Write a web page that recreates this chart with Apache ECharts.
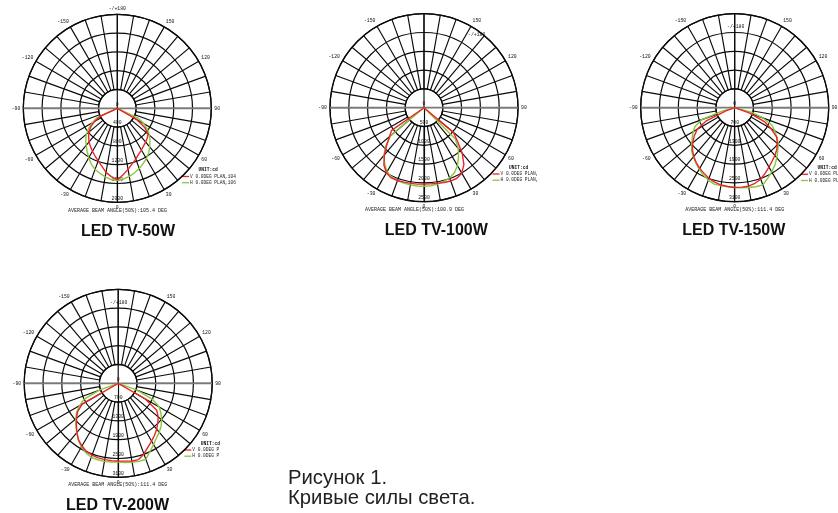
<!DOCTYPE html>
<html><head><meta charset="utf-8">
<script src="https://cdn.jsdelivr.net/npm/echarts/dist/echarts.min.js"></script>
<style>html,body{margin:0;padding:0;background:#fff}#c{width:838px;height:513px}</style>
</head><body><div id="c"></div>
<script>
// Angles (deg, 0 = straight down, positive to the right)
const ANGLES = [-90,-85,-80,-75,-70,-65,-60,-55,-50,-45,-40,-35,-30,-25,-20,-15,-10,-5,0,5,10,15,20,25,30,35,40,45,50,55,60,65,70,75,80,85,90];

// Luminous intensity, cd
const V_50W  = [0,0,0,0,0,400,560,690,790,863,935,995,1057,1120,1190,1275,1385,1460,1520,1420,1320,1225,1150,1078,1025,975,938,900,855,710,470,0,0,0,0,0,0];
const H_50W  = [0,0,0,0,0,485,610,740,860,950,1030,1120,1215,1310,1385,1430,1480,1520,1530,1510,1470,1420,1365,1300,1235,1165,1070,985,890,790,650,480,0,0,0,0,0];
const V_100W = [0,0,0,0,0,0,0,1050,1200,1400,1640,1860,2000,2060,2060,2050,2045,2040,2030,2035,2045,2060,2075,2070,2010,1850,1580,1260,1020,0,0,0,0,0,0,0,0];
const H_100W = [0,0,0,0,0,0,0,0,1150,1440,1660,1820,1970,2030,2060,2075,2085,2090,2090,2085,2065,2030,1990,1910,1780,1600,1420,1180,0,0,0,0,0,0,0,0,0];
const V_150W = [0,0,0,0,310,1050,1430,1630,1810,1970,2100,2210,2310,2390,2480,2540,2590,2610,2630,2630,2630,2580,2510,2380,2260,2150,2060,1960,1840,1690,1390,1080,530,0,0,0,0];
const H_150W = [0,0,0,430,1150,1440,1580,1710,1850,2010,2120,2230,2340,2450,2540,2610,2610,2620,2630,2650,2670,2700,2710,2570,2440,2310,2160,2010,1880,1700,1520,1350,990,560,0,0,0];
const V_200W = [0,0,0,0,0,0,1370,1640,1790,1950,2120,2280,2390,2480,2520,2545,2555,2560,2560,2575,2600,2605,2480,2320,2200,2090,1975,1845,1725,1550,1020,0,0,0,0,0,0,0];
const H_200W = [0,0,0,0,640,1240,1470,1675,1830,1975,2125,2295,2425,2525,2595,2610,2615,2605,2595,2620,2645,2665,2665,2480,2330,2200,2105,2000,1870,1720,1565,1240,640,0,0,0,0];

// Tick labels
const RINGS_50W  = ['0','400','800','1200','1600','2000'];
const RINGS_100W = ['0','500','1000','1500','2000','2500'];
const RINGS_150W = ['0','700','1300','1900','2500','3100'];
const RINGS_200W = ['0','700','1300','1900','2500','3100'];
const ANGLE_LABELS = ['0','30','60','90','120','150','-/+180','-150','-120','-90','-60','-30'];

const RING_MAX = [2000, 2500, 3100, 3100];
const TITLES = ['LED TV-50W','LED TV-100W','LED TV-150W','LED TV-200W'];
const BEAMS = ['AVERAGE BEAM ANGLE(50%):105.4 DEG','AVERAGE BEAM ANGLE(50%):100.9 DEG','AVERAGE BEAM ANGLE(50%):111.4 DEG','AVERAGE BEAM ANGLE(50%):111.4 DEG'];
const LEG_V = ['V 0.0DEG PLAN,104.4°','V 0.0DEG PLAN,104.5°','V 0.0DEG PLAN','V 0.0DEG PLAN'];
const LEG_H = ['H 0.0DEG PLAN,106.4°','H 0.0DEG PLAN,97.2°','H 0.0DEG PLAN','H 0.0DEG PLAN'];

const MONO = '"Liberation Mono","DejaVu Sans Mono",monospace';
const SANS = '"Liberation Sans",Arial,sans-serif';
const LINE = '#0a0a0a';
const RED = '#e8262a';
const GREEN = '#8cc63c';

const panels = [
  {v:V_50W, h:H_50W, rings:RINGS_50W, cx:117.3, cy:108.3, r:94, tx:128, ty:231.2, bx:117.5, by:210.7, lx:182, ly:176.5, lclip:49, l180:null},
  {v:V_100W, h:H_100W, rings:RINGS_100W, cx:424, cy:107.7, r:94, tx:436.3, ty:230.3, bx:414.5, by:210, lx:492.5, ly:174, lclip:40.5, l180:[52.7,-72.7]},
  {v:V_150W, h:H_150W, rings:RINGS_150W, cx:734.7, cy:107.7, r:94, tx:733.8, ty:230.3, bx:734.7, by:210, lx:801, ly:174.3, lclip:40, l180:[1,-80.5]},
  {v:V_200W, h:H_200W, rings:RINGS_200W, cx:118.2, cy:383.3, r:94, tx:117.5, ty:505.3, bx:117.8, by:484.3, lx:184.3, ly:450, lclip:29.5, l180:[0.5,-80.6]}
];

const option = {animation:false, backgroundColor:'#fff', polar:[], angleAxis:[], radiusAxis:[], series:[], graphic:[]};
const toAxisAngle = a => (a < 0 ? a + 360 : a);

panels.forEach((p, i) => {
  const max = RING_MAX[i];
  const n = p.rings.length - 1;
  const step = max / n;
  const gi = 2 * i, di = 2 * i + 1;
  option.polar.push({center:[p.cx, p.cy], radius:[p.r / n, p.r]});
  option.polar.push({center:[p.cx, p.cy], radius:[0, p.r]});
  option.angleAxis.push({
    polarIndex:gi, type:'value', min:0, max:360, interval:10, startAngle:270, clockwise:false,
    axisLine:{show:true, lineStyle:{color:LINE, width:1.3}}, axisTick:{show:false}, axisLabel:{show:false},
    splitLine:{show:true, lineStyle:{color:LINE, width:1.15}}, splitArea:{show:false}
  });
  option.angleAxis.push({
    polarIndex:di, type:'value', min:0, max:360, interval:30, startAngle:270, clockwise:false,
    axisLine:{show:false}, axisTick:{show:false}, splitLine:{show:false}, splitArea:{show:false},
    axisLabel:{show:true, margin:3, fontSize:4.8, fontFamily:MONO, color:'#111',
      formatter:(v) => { if (v >= 360) return ''; if (v === 180 && p.l180) return ''; return ANGLE_LABELS[Math.round(v / 30)]; }}
  });
  option.radiusAxis.push({
    polarIndex:gi, type:'value', min:step, max:max, interval:step,
    axisLine:{show:false}, axisTick:{show:false}, axisLabel:{show:false},
    splitLine:{show:true, lineStyle:{color:LINE, width:1.2}}, splitArea:{show:false}
  });
  option.radiusAxis.push({
    polarIndex:di, type:'value', min:0, max:max, interval:step,
    axisLine:{show:true, lineStyle:{color:LINE, width:1.15}}, axisTick:{show:false},
    splitLine:{show:false}, splitArea:{show:false},
    axisLabel:{show:true, margin:0, align:'center', verticalAlign:'bottom', padding:[0,0,1.5,0],
      fontSize:4.8, fontFamily:MONO, color:'#111', showMinLabel:true, showMaxLabel:true,
      formatter:(v) => p.rings[Math.round(v / step)] || ''}
  });
  // centre cross lines
  option.series.push({type:'line', coordinateSystem:'polar', polarIndex:di, silent:true, symbol:'none', z:2,
    data:[[max, 90], [0, 0], [max, 270]], lineStyle:{color:'#7a7a7a', width:1.7}});
  option.series.push({type:'line', coordinateSystem:'polar', polarIndex:di, silent:true, symbol:'none', z:2,
    data:[[max, 180], [0, 0]], lineStyle:{color:LINE, width:1.15}});
  // intensity curves
  option.series.push({type:'line', coordinateSystem:'polar', polarIndex:di, symbol:'none', z:3,
    data:ANGLES.map((a, j) => [p.h[j], toAxisAngle(a)]), lineStyle:{color:GREEN, width:1.4}});
  option.series.push({type:'line', coordinateSystem:'polar', polarIndex:di, symbol:'none', z:4,
    data:ANGLES.map((a, j) => [p.v[j], toAxisAngle(a)]), lineStyle:{color:RED, width:1.4}});

  // texts
  option.graphic.push({type:'text', x:p.tx, y:p.ty, style:{text:TITLES[i], fill:'#111', fontSize:16, fontWeight:'bold', fontFamily:SANS, align:'center', verticalAlign:'middle'}});
  option.graphic.push({type:'text', x:p.bx, y:p.by, style:{text:BEAMS[i], fill:'#222', fontSize:5, fontFamily:MONO, align:'center', verticalAlign:'middle'}});
  option.graphic.push({type:'text', x:p.lx + 16.5, y:p.ly - 6.3, style:{text:'UNIT:cd', fill:'#111', fontSize:4.6, fontWeight:'bold', fontFamily:MONO, align:'left', verticalAlign:'middle'}});
  option.graphic.push({type:'line', shape:{x1:p.lx, y1:p.ly, x2:p.lx + 7, y2:p.ly}, style:{stroke:RED, lineWidth:1.3}});
  option.graphic.push({type:'line', shape:{x1:p.lx, y1:p.ly + 6.2, x2:p.lx + 7, y2:p.ly + 6.2}, style:{stroke:GREEN, lineWidth:1.3}});
  option.graphic.push({type:'text', x:p.lx + 8, y:p.ly, style:{text:LEG_V[i], fill:'#222', fontSize:4.5, fontFamily:MONO, align:'left', verticalAlign:'middle', width:p.lclip, overflow:'truncate', ellipsis:''}});
  option.graphic.push({type:'text', x:p.lx + 8, y:p.ly + 6.2, style:{text:LEG_H[i], fill:'#222', fontSize:4.5, fontFamily:MONO, align:'left', verticalAlign:'middle', width:p.lclip, overflow:'truncate', ellipsis:''}});
  if (p.l180) {
    option.graphic.push({type:'text', x:p.cx + p.l180[0], y:p.cy + p.l180[1], style:{text:ANGLE_LABELS[6], fill:'#111', fontSize:4.8, fontFamily:MONO, align:'center', verticalAlign:'middle'}});
  }
});

option.graphic.push({type:'text', x:288, y:478, style:{text:'Рисунок 1.', fill:'#222', fontSize:20.3, fontFamily:SANS, align:'left', verticalAlign:'middle'}});
option.graphic.push({type:'text', x:288, y:498, style:{text:'Кривые силы света.', fill:'#222', fontSize:20.3, fontFamily:SANS, align:'left', verticalAlign:'middle'}});

const chart = echarts.init(document.getElementById('c'), null, {renderer:'canvas'});
chart.setOption(option);
</script>
</body></html>
